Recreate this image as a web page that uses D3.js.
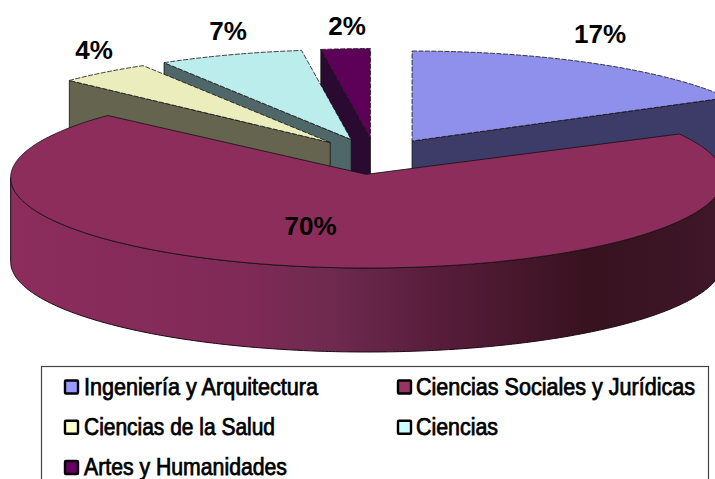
<!DOCTYPE html>
<html><head><meta charset="utf-8">
<script src="https://cdn.jsdelivr.net/npm/d3@7"></script>
<style>html,body{margin:0;padding:0;background:#fff}svg{display:block}</style>
</head><body><svg id="c" width="715" height="479"></svg>
<script>
const categories = ["Ingeniería y Arquitectura","Ciencias Sociales y Jurídicas","Ciencias de la Salud","Ciencias","Artes y Humanidades"];
const shares = [17.0, 70.1, 4.2, 6.5, 2.2];
const topColors = ["#8f8fec","#8c2d5c","#ecedbd","#bbeded","#5c0058"];
const sideColors = ["#3d3b67","#5a1c3c","#65654f","#4f6768","#2a0a30"];
const legendColors = ["#9999ff","#993366","#ffffcc","#ccffff","#660066"];
const drawOrder = [4,3,2,0,1];
const labelPlacement = [[600,43],[310.5,234.5],[94,59],[228,40],[347,35]];
const legendWidths = [234,279,191,82,203];

const W=715,H=479, cx=375.4, cy=156.5, rx=360, ry=90, depth=84, explode=0.2;
const svg=d3.select("#c");
const defs=svg.append("defs");
defs.append("clipPath").attr("id","plot").append("rect").attr("width",W).attr("height",H);

const pie=d3.pie().sort(null).value(d=>d)(shares);
const px=d3.scaleLinear().domain([-1,1]).range([-rx,rx]);
const py=d3.scaleLinear().domain([-1,1]).range([-ry,ry]);
const arcUnit=d3.arc().innerRadius(0).outerRadius(1);
const center=a=>{const m=(a.startAngle+a.endAngle)/2;
  return [cx+px(Math.sin(m))*explode, cy-py(Math.cos(m))*explode];};
const pt=(c,t,k=1,ky=1)=>[c[0]+px(Math.sin(t))*k, c[1]-py(Math.cos(t))*ky];
const line=d3.line();

const g=defs.append("linearGradient").attr("id","wall").attr("gradientUnits","userSpaceOnUse")
  .attr("x1",11).attr("x2",730).attr("y1",0).attr("y2",0);
[[0,"#8c2d5c"],[0.32,"#802a57"],[0.45,"#6d2a4e"],[0.6,"#571c3a"],[0.8,"#38121f"],[1,"#3f1729"]]
  .forEach(s=>g.append("stop").attr("offset",s[0]).attr("stop-color",s[1]));

const root=svg.append("g").attr("clip-path","url(#plot)");
drawOrder.forEach(i=>{
  const a=pie[i], c=center(a);
  const edge=i===0?a.endAngle:a.startAngle;
  if(i===1){
    // the large slice: its rim sits a little lower and narrower than its apex suggests
    const rim=[c[0]+0.9,c[1]+3.2], kx=0.99, ky=1.005;
    const ts=d3.range(Math.PI/2,1.5*Math.PI+0.001,0.01);
    const top=ts.map(t=>pt(rim,t,kx,ky));
    const bot=ts.map(t=>pt(rim,t,kx,ky)).reverse().map(p=>[p[0],p[1]+depth]);
    root.append("path").attr("d",line(top.concat(bot))+"Z").attr("fill","url(#wall)").attr("stroke","#1a0a12").attr("stroke-width",1);
    const rimPts=d3.range(a.startAngle,a.endAngle,0.01).map(t=>pt(rim,t,kx,ky));
    root.append("path").attr("d",line([c,...rimPts])+"Z")
      .attr("fill",topColors[i]).attr("stroke","#111").attr("stroke-width",0.8);
  } else {
    const p=pt(c,edge);
    root.append("path").attr("d",line([c,p,[p[0],p[1]+depth],[c[0],c[1]+depth]])+"Z")
      .attr("fill",sideColors[i]).attr("stroke","#111").attr("stroke-width",0.8);
    root.append("path").attr("d",arcUnit({startAngle:a.startAngle,endAngle:a.endAngle}))
      .attr("transform",`translate(${c[0]},${c[1]}) scale(${rx},${ry})`)
      .attr("fill",topColors[i]).attr("stroke","#111").attr("stroke-width",0.8)
      .attr("vector-effect","non-scaling-stroke").attr("stroke-dasharray","5 1.5");
  }
});

svg.append("g").selectAll("text").data(shares).join("text")
  .attr("x",(d,i)=>labelPlacement[i][0]).attr("y",(d,i)=>labelPlacement[i][1])
  .attr("text-anchor","middle").attr("font-family","Liberation Sans, Arial, sans-serif")
  .attr("font-weight","bold").attr("font-size",26).attr("fill","#000")
  .text(d=>Math.round(d)+"%");

// legend
svg.append("rect").attr("x",41.5).attr("y",366.5).attr("width",667).attr("height",120)
  .attr("fill","#fff").attr("stroke","#444").attr("stroke-width",1.2);
const col=d3.scalePoint().domain([0,1]).range([63,396]);
const row=d3.scalePoint().domain([0,1,2]).range([387,467.5]);
const lg=svg.append("g").selectAll("g").data(categories).join("g")
  .attr("transform",(d,i)=>`translate(${col(i%2)},${row(Math.floor(i/2))})`);
lg.append("rect").attr("x",2).attr("y",-6.5).attr("width",13).attr("height",13).attr("rx",1)
  .attr("fill",(d,i)=>legendColors[i]).attr("stroke","#000").attr("stroke-width",2.4);
lg.append("text").attr("x",(d,i)=>i%2?20:21).attr("y",7.5).text(d=>d)
  .attr("font-family","Liberation Sans, Arial, sans-serif")
  .attr("font-size",23).attr("fill","#000").attr("stroke","#000").attr("stroke-width",0.75)
  .attr("textLength",(d,i)=>legendWidths[i]).attr("lengthAdjust","spacingAndGlyphs");
</script></body></html>
